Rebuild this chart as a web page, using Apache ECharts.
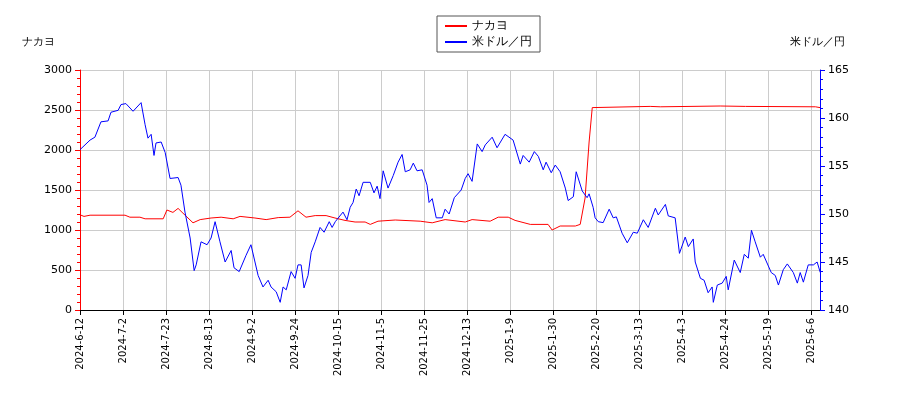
<!DOCTYPE html>
<html><head><meta charset="utf-8">
<script src="https://cdn.jsdelivr.net/npm/echarts@6/dist/echarts.min.js"></script>
</head><body style="margin:0">
<div id="chart" style="width:900px;height:400px"></div>
<script>
// x = trading day index, labels every 15 trading days
var dateLabels = ['2024-6-12','2024-7-2','2024-7-23','2024-8-13','2024-9-2','2024-9-24','2024-10-15','2024-11-5','2024-11-25','2024-12-13','2025-1-9','2025-1-30','2025-2-20','2025-3-13','2025-4-3','2025-4-24','2025-5-19','2025-6-6'];

var nakayoIdx = [0,1.4,3.5,15.7,17.4,20.9,22.7,29,30.3,32.4,34.2,35.9,39.4,41.9,45.7,49.2,53.4,55.8,61,64.9,69.1,73.2,76,78.8,82,85.8,88.9,92.4,95.9,99.4,101.2,103.9,109.9,118.6,122.8,127.3,134.3,136.7,143,145.8,149.3,151.7,157,163.2,164.6,167.4,172.7,174.4,176.1,177.5,178.6,198.8,202.3,223.2,232,256.4,258];
var nakayoVal = [1190,1170,1185,1185,1160,1160,1140,1140,1250,1220,1270,1210,1090,1130,1150,1160,1140,1170,1150,1130,1155,1160,1240,1160,1180,1180,1150,1120,1100,1100,1070,1110,1125,1110,1090,1130,1100,1130,1110,1160,1160,1120,1070,1070,1000,1050,1050,1070,1400,2100,2530,2545,2540,2550,2545,2540,2530];

var usdIdx = [0,3.5,5.2,7.3,9.8,10.8,13.3,14.3,16,18.5,21.3,22.7,23.7,24.8,25.8,26.5,28.3,29.7,31.4,34.2,35.2,36.6,38.4,39.8,40.5,42.2,44.3,45.7,47.1,48.8,50.6,52.7,53.7,55.5,57.9,59.6,62.1,63.8,65.6,66.6,68.4,69.8,70.8,71.9,73.6,75,76,77.1,78.1,79.5,80.6,82,83.7,85.1,86.9,87.9,89,
  89.6,91.7,93.1,94.2,95.2,96.3,97.3,98.7,101.2,102.5,103.6,104.6,105.7,107.4,109.2,110.9,112.3,113.4,115.1,116.2,117.5,119.3,121,121.7,122.8,124.2,126.3,127.3,128.7,130.5,132.9,134.3,135.3,136.7,138.5,140.2,141.3,143.7,145.4,148.2,151,153.5,154.5,156.6,158.4,159.8,161.5,162.5,164.3,165.7,167.4,169.2,170.2,172,173,175.1,176.8,177.5,178.9,179.6,180.7,182.4,184.5,185.9,187,189,190.8,192.9,194.3,196.4,198.1,200.6,201.6,204.1,205.1,207.5,209,211,212.1,213.8,214.5,216.3,217.6,219,220.4,220.8,222.2,223.9,225.3,226,228.1,230.2,231.6,233,234.1,235.4,237.2,238.2,241,242.4,243.5,245.2,246.6,248.7,250.1,251.1,252.2,253.9,255.7,257,258.1];
var usdVal = [156.7,157.7,158.0,159.6,159.7,160.6,160.8,161.4,161.5,160.7,161.6,159.3,157.9,158.3,156.1,157.4,157.5,156.4,153.7,153.8,153.0,150.2,147.5,144.1,144.7,147.1,146.8,147.5,149.2,147.1,145,146.2,144.4,144,145.7,146.8,143.6,142.4,143.1,142.4,141.9,140.8,142.4,142.1,144,143.3,144.7,144.7,142.3,143.6,146,147.1,148.6,148.1,149.2,148.6,149.2,
  149.2,150.2,149.4,150.7,151.2,152.6,151.9,153.3,153.3,152.2,152.9,151.6,154.5,152.7,154,155.4,156.2,154.4,154.6,155.3,154.5,154.6,153,151.2,151.6,149.6,149.6,150.5,150,151.7,152.5,153.7,154.2,153.4,157.3,156.5,157.2,158,156.9,158.3,157.7,155.2,156.1,155.4,156.5,156,154.6,155.4,154.3,155.1,154.4,152.7,151.4,151.8,154.4,152.4,151.7,152.1,150.7,149.6,149.2,149.1,150.5,149.6,149.7,148,147,148.1,148,149.4,148.6,150.6,149.9,151,149.8,149.6,145.9,147.6,146.6,147.4,145,143.3,143.1,141.8,142.4,140.8,142.6,142.8,143.5,142.1,145.2,143.9,145.8,145.4,148.3,147.1,145.5,145.8,143.9,143.6,142.6,144.2,144.8,143.9,142.8,143.9,142.9,144.7,144.7,145,143.9];

function pairs(xs, ys) { return xs.map(function (x, i) { return [x, ys[i]]; }); }

var myChart = echarts.init(document.getElementById('chart'));
var font = 'DejaVu Sans';
option = {
    animation: false,
    textStyle: { fontFamily: font },
    legend: {
        orient: 'vertical',
        top: 16, left: 437,
        borderColor: '#555', borderWidth: 1, borderRadius: 0,
        padding: [4, 8], itemGap: 4, itemWidth: 22, itemHeight: 2,
        textStyle: { fontSize: 12, color: '#000' },
        data: [{ name: 'ナカヨ', icon: 'rect' }, { name: '米ドル／円', icon: 'rect' }]
    },
    grid: { left: 80, right: 80, top: 70, bottom: 90 },
    xAxis: {
        type: 'value', min: 0, max: 258, interval: 15,
        axisLine: { lineStyle: { color: '#000' } },
        axisTick: { lineStyle: { color: '#000' } },
        splitLine: { lineStyle: { color: '#ccc' } },
        axisLabel: {
            rotate: 90, fontSize: 10, color: '#000', showMaxLabel: false,
            formatter: function (v) { return dateLabels[Math.round(v / 15)] || ''; }
        }
    },
    yAxis: [{
        type: 'value', min: 0, max: 3000, interval: 500,
        name: 'ナカヨ', nameLocation: 'end', nameGap: 22,
        nameTextStyle: { color: '#000', fontSize: 11, align: 'right', padding: [0, 25, 0, 0] },
        axisLine: { show: true, lineStyle: { color: 'red' } },
        axisTick: { show: true },
        minorTick: { show: true, splitNumber: 5 },
        splitLine: { lineStyle: { color: '#ccc' } },
        axisLabel: { color: '#000', fontSize: 11, formatter: function (v) { return String(v); } }
    }, {
        type: 'value', min: 140, max: 165, interval: 5,
        name: '米ドル／円', nameLocation: 'end', nameGap: 22,
        nameTextStyle: { color: '#000', fontSize: 11, align: 'left', padding: [0, 0, 0, -30] },
        axisLine: { show: true, lineStyle: { color: 'blue' } },
        axisTick: { show: true },
        minorTick: { show: true, splitNumber: 5 },
        splitLine: { show: false },
        axisLabel: { color: '#000', fontSize: 11 }
    }],
    series: [{
        name: 'ナカヨ', type: 'line', yAxisIndex: 0, showSymbol: false,
        color: 'red', lineStyle: { width: 1 },
        data: pairs(nakayoIdx, nakayoVal)
    }, {
        name: '米ドル／円', type: 'line', yAxisIndex: 1, showSymbol: false,
        color: 'blue', lineStyle: { width: 1 },
        data: pairs(usdIdx, usdVal)
    }]
};
myChart.setOption(option);
</script>
</body></html>
